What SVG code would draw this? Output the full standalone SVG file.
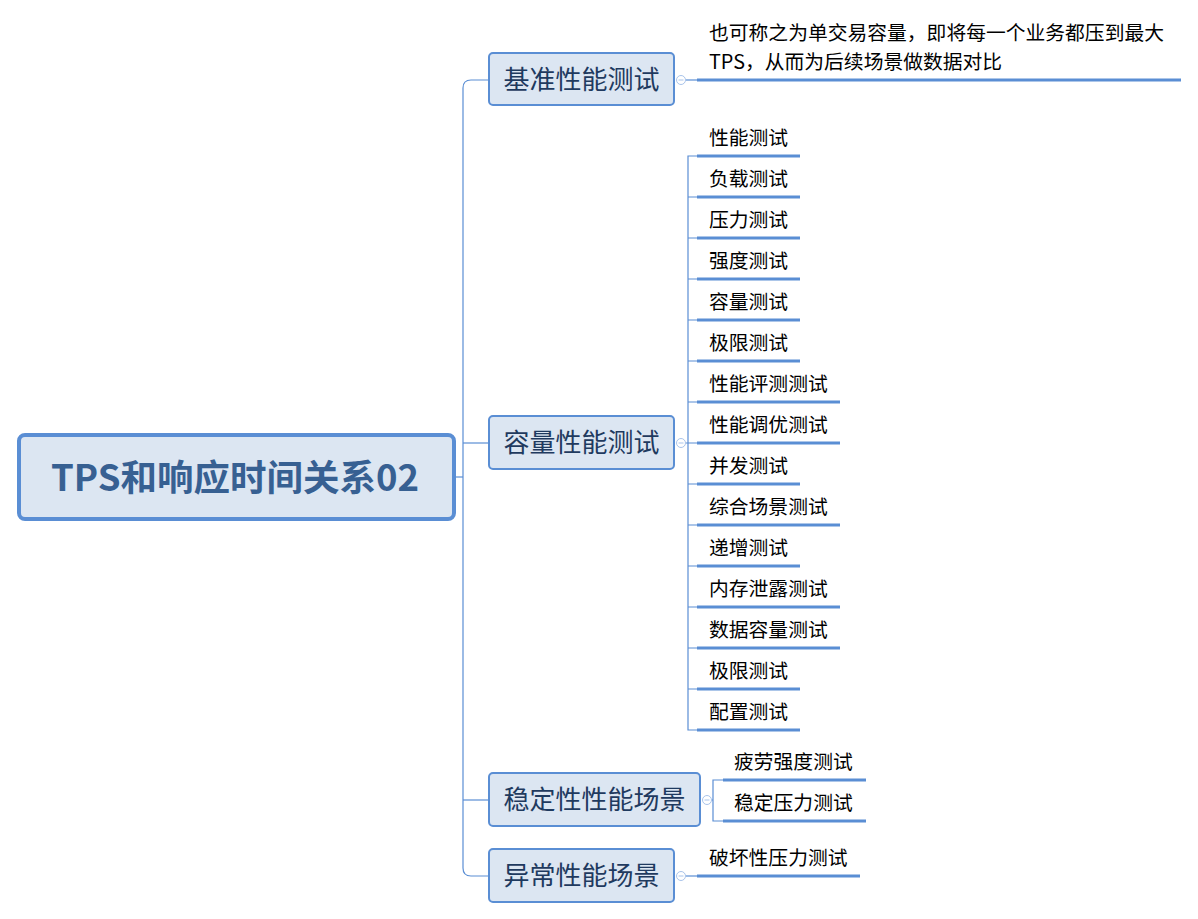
<svg xmlns="http://www.w3.org/2000/svg" width="1198" height="919" viewBox="0 0 1198 919">
<style>
.conn{fill:none;stroke:#5a8ed4;stroke-width:1.2}
.ul{stroke:#5a8ed4;stroke-width:3}
.main rect{fill:#dce6f2;stroke:#5a8ed4;stroke-width:2}
.main text{font-family:"Noto Sans CJK SC","Noto Sans",sans-serif;font-size:26px;fill:#1f3a5f;text-anchor:middle}
.leaf text{font-family:"Noto Sans CJK SC","Noto Sans",sans-serif;font-size:19.8px;fill:#000}
.tog{fill:#fff;stroke:#a9c4eb;stroke-width:1}
.togm{stroke:#a9c4eb;stroke-width:1}
</style>
<rect width="1198" height="919" fill="#fff"/>
<g id="connectors">
  <path class="conn" d="M455,477 H463"/>
  <path class="conn" d="M489,80 H471 Q463,80 463,88 V868 Q463,876 471,876 H489"/>
  <path class="conn" d="M463,443 H489"/>
  <path class="conn" d="M463,800 H489"/>
  <path class="conn" d="M686,80 H697"/>
  <path class="conn" d="M686,443 H688"/>
  <path class="conn" d="M697,156 H688 V730 H697"/>
  <path class="conn" d="M688,197 H697 M688,238 H697 M688,279 H697 M688,320 H697 M688,361 H697 M688,402 H697 M688,443 H697 M688,484 H697 M688,525 H697 M688,566 H697 M688,607 H697 M688,648 H697 M688,689 H697"/>
  <path class="conn" d="M712,800 H713"/>
  <path class="conn" d="M723,780 H713 V821 H723"/>
  <path class="conn" d="M686,876 H697"/>
  <g>
    <circle class="tog" cx="681" cy="80" r="4.5"/><path class="togm" d="M678.5,80 H683.5"/>
    <circle class="tog" cx="681" cy="443" r="4.5"/><path class="togm" d="M678.5,443 H683.5"/>
    <circle class="tog" cx="707" cy="800" r="4.5"/><path class="togm" d="M704.5,800 H709.5"/>
    <circle class="tog" cx="681" cy="876" r="4.5"/><path class="togm" d="M678.5,876 H683.5"/>
  </g>
</g>
<g id="root">
  <rect x="19" y="435" width="435" height="84" rx="6" fill="#dce6f2" stroke="#5a8ed4" stroke-width="4"/>
  <text x="235" y="491" font-family="'Noto Sans CJK SC','Noto Sans',sans-serif" font-size="36.5" font-weight="bold" fill="#376092" text-anchor="middle">TPS和响应时间关系02</text>
</g>
<g id="n1" class="main"><rect x="489" y="53" width="185" height="52" rx="4"/><text x="581.5" y="89">基准性能测试</text></g>
<g id="n2" class="main"><rect x="489" y="416" width="185" height="53" rx="4"/><text x="581.5" y="452">容量性能测试</text></g>
<g id="n3" class="main"><rect x="489" y="773" width="211" height="53" rx="4"/><text x="594.5" y="809">稳定性性能场景</text></g>
<g id="n4" class="main"><rect x="489" y="849" width="185" height="53" rx="4"/><text x="581.5" y="885">异常性能场景</text></g>
<g id="l0" class="leaf"><line class="ul" x1="697" y1="80" x2="1181" y2="80"/><text x="709" y="40"><tspan x="709" y="40">也可称之为单交易容量，即将每一个业务都压到最大</tspan><tspan x="709" y="69">TPS，从而为后续场景做数据对比</tspan></text></g>
<g id="l1" class="leaf"><line class="ul" x1="697" y1="156" x2="800" y2="156"/><text x="709" y="145">性能测试</text></g>
<g id="l2" class="leaf"><line class="ul" x1="697" y1="197" x2="800" y2="197"/><text x="709" y="186">负载测试</text></g>
<g id="l3" class="leaf"><line class="ul" x1="697" y1="238" x2="800" y2="238"/><text x="709" y="227">压力测试</text></g>
<g id="l4" class="leaf"><line class="ul" x1="697" y1="279" x2="800" y2="279"/><text x="709" y="268">强度测试</text></g>
<g id="l5" class="leaf"><line class="ul" x1="697" y1="320" x2="800" y2="320"/><text x="709" y="309">容量测试</text></g>
<g id="l6" class="leaf"><line class="ul" x1="697" y1="361" x2="800" y2="361"/><text x="709" y="350">极限测试</text></g>
<g id="l7" class="leaf"><line class="ul" x1="697" y1="402" x2="840" y2="402"/><text x="709" y="391">性能评测测试</text></g>
<g id="l8" class="leaf"><line class="ul" x1="697" y1="443" x2="840" y2="443"/><text x="709" y="432">性能调优测试</text></g>
<g id="l9" class="leaf"><line class="ul" x1="697" y1="484" x2="800" y2="484"/><text x="709" y="473">并发测试</text></g>
<g id="l10" class="leaf"><line class="ul" x1="697" y1="525" x2="840" y2="525"/><text x="709" y="514">综合场景测试</text></g>
<g id="l11" class="leaf"><line class="ul" x1="697" y1="566" x2="800" y2="566"/><text x="709" y="555">递增测试</text></g>
<g id="l12" class="leaf"><line class="ul" x1="697" y1="607" x2="840" y2="607"/><text x="709" y="596">内存泄露测试</text></g>
<g id="l13" class="leaf"><line class="ul" x1="697" y1="648" x2="840" y2="648"/><text x="709" y="637">数据容量测试</text></g>
<g id="l14" class="leaf"><line class="ul" x1="697" y1="689" x2="800" y2="689"/><text x="709" y="678">极限测试</text></g>
<g id="l15" class="leaf"><line class="ul" x1="697" y1="730" x2="800" y2="730"/><text x="709" y="719">配置测试</text></g>
<g id="l16" class="leaf"><line class="ul" x1="723" y1="780" x2="866" y2="780"/><text x="734" y="769">疲劳强度测试</text></g>
<g id="l17" class="leaf"><line class="ul" x1="723" y1="821" x2="866" y2="821"/><text x="734" y="810">稳定压力测试</text></g>
<g id="l18" class="leaf"><line class="ul" x1="697" y1="876" x2="860" y2="876"/><text x="709" y="865">破坏性压力测试</text></g>
</svg>
